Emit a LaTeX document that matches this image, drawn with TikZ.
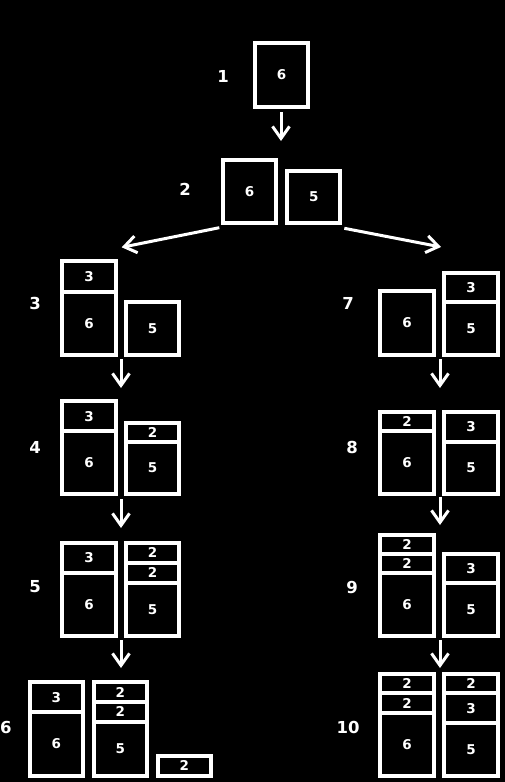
\documentclass[tikz,border=0pt]{standalone}
\usepackage{fontspec}
\setmainfont{DejaVu Sans}
\usetikzlibrary{arrows.meta}
\newcommand\segbox[6]{\node[seg,minimum width={#4-#2},minimum height={#5-#3}] (#1) at ({(#2+#4)/2},{(#3+#5)/2}) {#6};}
\begin{document}
\begin{tikzpicture}[x=1pt,y=-1pt,
  seg/.style={draw=white,line width=4pt,inner sep=0pt,outer sep=0pt,text=white,font=\fontsize{13.5}{14}\selectfont\bfseries},
  lab/.style={text=white,font=\fontsize{16.5}{18}\selectfont\bfseries,inner sep=0pt},
  arr/.style={draw=white,line width=3pt,-{Straight Barb[length=12pt,width=17pt]}}]
\useasboundingbox (0,0) rectangle (504,782);
\fill[black] (-3,-3) rectangle (507,785);
% step 1
\segbox{s1a}{255.3}{43}{308}{106.7}{6}
% step 2
\segbox{s2a}{223}{160}{276}{222.7}{6}
\segbox{s2b}{287.3}{171}{340.3}{222.7}{5}
% step 3
\segbox{s3a}{62.3}{261.3}{115.7}{291.7}{3}
\segbox{s3b}{62.3}{291.7}{115.7}{354.7}{6}
\segbox{s3c}{126.3}{302.3}{178.7}{354.7}{5}
% step 4
\segbox{s4a}{62.3}{401.3}{115.7}{431}{3}
\segbox{s4b}{62.3}{431}{115.7}{493.7}{6}
\segbox{s4c}{126.3}{423.3}{178.7}{441.7}{2}
\segbox{s4d}{126.3}{441.7}{178.7}{493.7}{5}
% step 5
\segbox{s5a}{62.3}{543}{115.7}{572.7}{3}
\segbox{s5b}{62.3}{572.7}{115.7}{635.7}{6}
\segbox{s5c}{126.3}{543}{178.7}{562.7}{2}
\segbox{s5d}{126.3}{562.7}{178.7}{582.7}{2}
\segbox{s5e}{126.3}{582.7}{178.7}{635.7}{5}
% step 6
\segbox{s6a}{30}{682.3}{82.7}{712.3}{3}
\segbox{s6b}{30}{712.3}{82.7}{775.7}{6}
\segbox{s6c}{94}{682.3}{146.7}{701.7}{2}
\segbox{s6d}{94}{701.7}{146.7}{722}{2}
\segbox{s6e}{94}{722}{146.7}{775.7}{5}
\segbox{s6f}{158}{756}{210.7}{775.7}{2}
% step 7
\segbox{s7a}{380.3}{291.3}{434}{354.7}{6}
\segbox{s7b}{444.3}{272.7}{497.7}{302.3}{3}
\segbox{s7c}{444.3}{302.3}{497.7}{354.7}{5}
% step 8
\segbox{s8a}{380.3}{412.3}{434}{430.7}{2}
\segbox{s8b}{380.3}{430.7}{434}{493.7}{6}
\segbox{s8c}{444.3}{412.3}{497.7}{441.7}{3}
\segbox{s8d}{444.3}{441.7}{497.7}{493.7}{5}
% step 9
\segbox{s9a}{380.3}{534.7}{434}{554}{2}
\segbox{s9b}{380.3}{554}{434}{572.7}{2}
\segbox{s9c}{380.3}{572.7}{434}{635.7}{6}
\segbox{s9d}{444.3}{554}{497.7}{583.3}{3}
\segbox{s9e}{444.3}{583.3}{497.7}{635.7}{5}
% step 10
\segbox{s10a}{380.3}{674}{434}{693.3}{2}
\segbox{s10b}{380.3}{693.3}{434}{712.7}{2}
\segbox{s10c}{380.3}{712.7}{434}{775.7}{6}
\segbox{s10d}{444.3}{674}{497.7}{693.3}{2}
\segbox{s10e}{444.3}{693.3}{497.7}{723}{3}
\segbox{s10f}{444.3}{723}{497.7}{775.7}{5}
% labels
\node[lab] (l1) at (223,76) {1};
\node[lab] (l2) at (185,189) {2};
\node[lab] (l3) at (35,303) {3};
\node[lab] (l4) at (35,447) {4};
\node[lab] (l5) at (35,587) {5};
\node[lab,anchor=west] (l6) at (0,727) {6};
\node[lab] (l7) at (348,303) {7};
\node[lab] (l8) at (352,447) {8};
\node[lab] (l9) at (352,587) {9};
\node[lab] (l10) at (348,727) {10};
% arrow end points
\coordinate (a1s) at (281,112);   \coordinate (a1e) at (281,141);
\coordinate (aLs) at (219.3,227.7); \coordinate (aLe) at (121.7,247.3);
\coordinate (aRs) at (344.3,228.3); \coordinate (aRe) at (441,247);
\coordinate (a34s) at (121,359);  \coordinate (a34e) at (121,388);
\coordinate (a45s) at (121,499);  \coordinate (a45e) at (121,528);
\coordinate (a56s) at (121,640);  \coordinate (a56e) at (121,668);
\coordinate (a78s) at (440,359);  \coordinate (a78e) at (440,388);
\coordinate (a89s) at (440,497);  \coordinate (a89e) at (440,525);
\coordinate (a910s) at (440,640); \coordinate (a910e) at (440,668);
\draw[arr] (a1s) -- (a1e);
\draw[arr] (aLs) -- (aLe);
\draw[arr] (aRs) -- (aRe);
\draw[arr] (a34s) -- (a34e);
\draw[arr] (a45s) -- (a45e);
\draw[arr] (a56s) -- (a56e);
\draw[arr] (a78s) -- (a78e);
\draw[arr] (a89s) -- (a89e);
\draw[arr] (a910s) -- (a910e);
\end{tikzpicture}
\end{document}
